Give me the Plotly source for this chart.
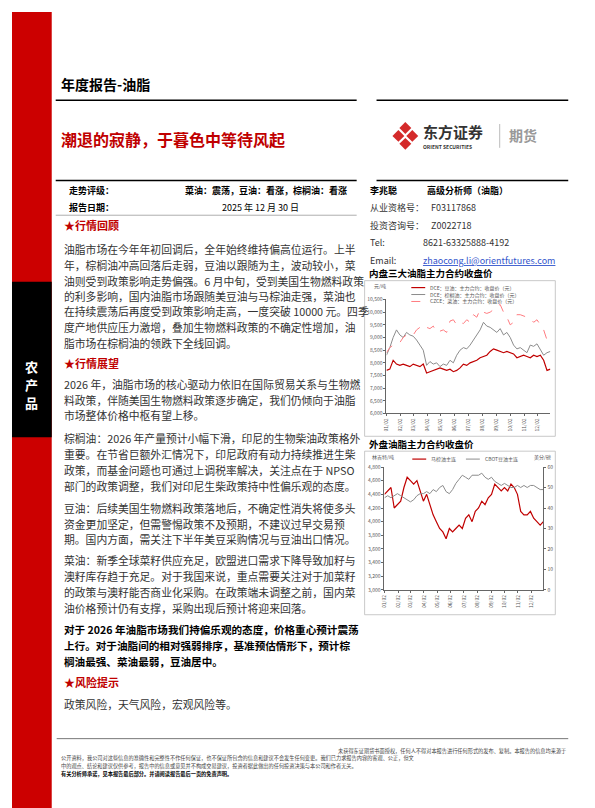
import pandas as pd
import plotly.graph_objects as go

W, H = 595, 808

# ---- données graphique 1 : contrats principaux domestiques (元/吨)
doudou = [7700, 7750, 8100, 7950, 7900, 7950, 7900, 7850, 7950, 7900, 7850, 7950,
          7600, 7650, 7700, 7750, 7800, 7750, 7700, 7750, 7650, 7700, 7800, 7950,
          7900, 8000, 8050, 8100, 8200, 8250, 8300, 8450, 8550, 8500, 8450, 8400,
          8450, 8400, 8350, 8200, 8250, 8300, 8250, 8200, 8300, 8250, 8300, 8100,
          7700, 7750]
zonglv = [8300, 8600, 9000, 9300, 9100, 9000, 9200, 9100, 9050, 8900, 8700, 8500,
          7900, 8050, 7950, 8000, 7850, 7950, 7900, 8100, 8000, 8300, 8500, 8600,
          8550, 8700, 8900, 9100, 9300, 9600, 9450, 9400, 9300, 9200, 9350, 9100,
          9200, 9000, 8700, 8550, 8600, 8500, 8400, 8700, 8650, 8750, 8500, 8300,
          8400, 8450]
caiyou = [8400, 8600, 8700, 8750, 8800, 9000, 9100, 9050, 9100, 9300, 9400, 9300,
          9400, 9350, 9450, 9200, 9250, 9300, 9200, 9650, 9700, 9500, 9600, 9550,
          9700, 9600, 9900, 9800, 10100, 10000, 9950, 10000, 10100, 10250, 10300, 10000,
          9800, 9500, 9600, 9900, 9900, 9850, 9800, 9750, 9600, 9700, 9500, 9300,
          8900, 8700]
noms1 = ["DCE：豆油：主力合约：收盘价（元）", "DCE：棕榈油：主力合约：收盘价（元）",
         "CZCE：菜油：主力合约：收盘价（元）"]

# ---- données graphique 2 : contrats étrangers
bmd = [4400, 4450, 4500, 4200, 4250, 4300, 4500, 4650, 4600, 4550, 4600, 4450,
       4300, 4400, 4250, 4100, 4000, 3900, 3850, 3750, 3900, 3850, 3900, 3950,
       3900, 4050, 4100, 4000, 4150, 4200, 4300, 4250, 4350, 4400, 4550, 4500,
       4450, 4500, 4450, 4550, 4500, 4400, 4150, 4100, 4100, 4150, 4050, 4000,
       3950, 4000]
cbot = [45, 46, 45, 46, 47, 46, 45, 44, 43, 44, 46, 47, 47, 48, 47, 49, 48, 50,
        51, 48, 47, 49, 52, 54, 56, 55, 54, 56, 56, 56, 57, 55, 54, 55, 53, 52,
        51, 52, 51, 50, 50, 51, 50, 51, 50, 51, 51, 50, 49, 49]
noms2 = ["马棕油主连", "CBOT豆油主连"]

dates = pd.date_range("2025-01-02", "2025-12-30", periods=len(doudou))

ROUGE = "#C00000"
GRIS = "#8C8C8C"
ROSE = "#FF7C80"
FONT = "Noto Sans CJK SC"


def px(x):
    return x / W


def py(y):
    return 1 - y / H


fig = go.Figure()
fig.add_trace(go.Scatter(x=dates, y=doudou, name=noms1[0], mode="lines",
                         line=dict(color=ROUGE, width=1.2)))
fig.add_trace(go.Scatter(x=dates, y=zonglv, name=noms1[1], mode="lines",
                         line=dict(color=GRIS, width=1)))
fig.add_trace(go.Scatter(x=dates, y=caiyou, name=noms1[2], mode="lines",
                         line=dict(color=ROSE, width=1, dash="dash")))
fig.add_trace(go.Scatter(x=dates, y=bmd, name=noms2[0], mode="lines", xaxis="x2", yaxis="y2",
                         line=dict(color=ROUGE, width=1.2)))
fig.add_trace(go.Scatter(x=dates, y=cbot, name=noms2[1], mode="lines", xaxis="x2", yaxis="y3",
                         line=dict(color=GRIS, width=1)))

tick = dict(size=5, color="#555")
axe = dict(showgrid=False, zeroline=False, showline=True, linecolor="#666", linewidth=1,
           ticks="outside", ticklen=2, tickcolor="#666", tickfont=tick)

fig.update_layout(
    width=W, height=H, margin=dict(l=0, r=0, t=0, b=0), showlegend=False,
    paper_bgcolor="white", plot_bgcolor="white", font=dict(family=FONT),
    xaxis=dict(axe, domain=[px(377), px(542)], anchor="y", tickformat="%m/%d",
               tickangle=-90, dtick="M1", tick0="2025-01-02"),
    yaxis=dict(axe, domain=[py(405), py(290)], anchor="x", range=[6000, 10500],
               dtick=500, tickformat=","),
    xaxis2=dict(axe, domain=[px(375), px(535)], anchor="y2", tickformat="%m/%d",
                tickangle=-90, dtick="M1", tick0="2025-01-02"),
    yaxis2=dict(axe, domain=[py(583), py(459)], anchor="x2", range=[3000, 4800],
                dtick=200, tickformat=","),
    yaxis3=dict(axe, overlaying="y2", side="right", anchor="x2", range=[0, 60], dtick=10),
)

P = dict(xref="paper", yref="paper")
shapes = [
    dict(P, type="rect", x0=0, x1=px(40), y0=0, y1=1, fillcolor="#CC0000", line_width=0),
    dict(P, type="rect", x0=0, x1=px(40), y0=py(429), y1=py(272), fillcolor="black", line_width=0),
    dict(P, type="line", x0=px(44), x1=px(347), y0=py(89), y1=py(89), line=dict(color="black", width=1.5)),
    dict(P, type="line", x0=px(367), x1=px(560), y0=py(89), y1=py(89), line=dict(color="black", width=1.5)),
    dict(P, type="line", x0=px(44), x1=px(347), y0=py(170), y1=py(170), line=dict(color="black", width=1.5)),
    dict(P, type="line", x0=px(367), x1=px(560), y0=py(170), y1=py(170), line=dict(color="black", width=1.5)),
    dict(P, type="line", x0=px(44), x1=px(347), y0=py(205), y1=py(205), line=dict(color="#999", width=0.8)),
    dict(P, type="rect", x0=px(355), x1=px(547), y0=py(428), y1=py(271), line=dict(color="#BBB", width=0.8)),
    dict(P, type="rect", x0=px(355), x1=px(547), y0=py(608), y1=py(443), line=dict(color="#BBB", width=0.8)),
    dict(P, type="line", x0=px(45), x1=px(560), y0=py(733), y1=py(733), line=dict(color="#777", width=1)),
    dict(P, type="line", x0=px(491), x1=px(491), y0=py(137), y1=py(113), line=dict(color="#AAA", width=0.8)),
]
# logo : quatre losanges rouges
for cx, cy in [(396, 117), (389, 125), (403, 125), (396, 133)]:
    shapes.append(dict(P, type="path", fillcolor="#D42A2A", line_width=0,
                       path=f"M {px(cx)} {py(cy-6)} L {px(cx+6)} {py(cy)} L {px(cx)} {py(cy+6)} L {px(cx-6)} {py(cy)} Z"))

ann = []


def txt(x, y, s, size=11, color="#333", bold=False, anchor="left", **kw):
    if bold:
        s = "<b>" + s + "</b>"
    ann.append(dict(x=px(x), y=py(y), xref="paper", yref="paper", text=s, showarrow=False,
                    xanchor=anchor, yanchor="middle", font=dict(size=size, color=color), **kw))


# légendes dessinées à la main (plus compactes)
def legende(x, y, nom, couleur, dash="solid", w=1.2):
    shapes.append(dict(P, type="line", x0=px(x), x1=px(x + 14), y0=py(y), y1=py(y),
                       line=dict(color=couleur, width=w, dash=dash)))
    txt(x + 17, y, nom, 5, "#555")


legende(402, 278, noms1[0], ROUGE)
legende(402, 285, noms1[1], GRIS, w=1)
legende(402, 292, noms1[2], ROSE, "dash", 1)
legende(403, 451, noms2[0], ROUGE)
legende(457, 451, noms2[1], GRIS, w=1)

txt(47, 73, "年度报告-油脂", 14, "black", True)
txt(47, 128, "潮退的寂静，于暮色中等待风起", 16, ROUGE, True)
txt(412, 121, "东方证券", 15, "#333", True)
txt(412, 136, "ORIENT SECURITIES", 5, "#333", True)
txt(498, 124, "期货", 14, "#999", True)
for y, s in [(358, "农"), (376, "产"), (394, "品")]:
    txt(20, y, s, 13, "white", True, "center")

txt(55, 180, "走势评级：", 9, "black", True)
txt(256, 180, "菜油：震荡，豆油：看涨，棕榈油：看涨", 9, "black", True, "center")
txt(55, 197, "报告日期：", 9, "black", True)
txt(250, 197, "2025 年 12 月 30 日", 9, "black", False, "center")

txt(358, 180, "李兆聪", 9, "black", True)
txt(416, 180, "高级分析师（油脂）", 9, "black", True)
txt(358, 197, "从业资格号：", 9)
txt(420, 197, "F03117868", 9)
txt(358, 215, "投资咨询号：", 9)
txt(420, 215, "Z0022718", 9)
txt(358, 233, "Tel:", 9)
txt(412, 233, "8621-63325888-4192", 9)
txt(358, 251, "Email:", 9)
txt(412, 251, "<u>zhaocong.li@orientfutures.com</u>", 9, "#3355CC")

txt(50, 215, "★行情回顾", 11, ROUGE, True)
para = [
    (239, "油脂市场在今年年初回调后，全年始终维持偏高位运行。上半"),
    (255, "年，棕榈油冲高回落后走弱，豆油以跟随为主，波动较小，菜"),
    (271, "油则受到政策影响走势偏强。6 月中旬，受到美国生物燃料政策"),
    (286, "的利多影响，国内油脂市场跟随美豆油与马棕油走强，菜油也"),
    (302, "在持续震荡后再度受到政策影响走高，一度突破 10000 元。四季"),
    (318, "度产地供应压力激增，叠加生物燃料政策的不确定性增加，油"),
    (334, "脂市场在棕榈油的领跌下全线回调。"),
    (375, "2026 年，油脂市场的核心驱动力依旧在国际贸易关系与生物燃"),
    (391, "料政策，伴随美国生物燃料政策逐步确定，我们仍倾向于油脂"),
    (407, "市场整体价格中枢有望上移。"),
    (430, "棕榈油：2026 年产量预计小幅下滑，印尼的生物柴油政策格外"),
    (446, "重要。在节省巨额外汇情况下，印尼政府有动力持续推进生柴"),
    (462, "政策，而基金问题也可通过上调税率解决，关注点在于 NPSO"),
    (478, "部门的政策调整，我们对印尼生柴政策持中性偏乐观的态度。"),
    (500, "豆油：后续美国生物燃料政策落地后，不确定性消失将使多头"),
    (516, "资金更加坚定，但需警惕政策不及预期，不建议过早交易预"),
    (532, "期。国内方面，需关注下半年美豆采购情况与豆油出口情况。"),
    (553, "菜油：新季全球菜籽供应充足，欧盟进口需求下降导致加籽与"),
    (569, "澳籽库存趋于充足。对于我国来说，重点需要关注对于加菜籽"),
    (585, "的政策与澳籽能否商业化采购。在政策端未调整之前，国内菜"),
    (601, "油价格预计仍有支撑，采购出现后预计将迎来回落。"),
]
for y, s in para:
    txt(50, y, s, 10.8)
txt(50, 354, "★行情展望", 11, ROUGE, True)
for y, s in [(623, "对于 2026 年油脂市场我们持偏乐观的态度，价格重心预计震荡"),
             (639, "上行。对于油脂间的相对强弱排序，基准预估情形下，预计棕"),
             (655, "榈油最强、菜油最弱，豆油居中。")]:
    txt(50, y, s, 10.6, "black", True)
txt(50, 676, "★风险提示", 11, ROUGE, True)
txt(50, 698, "政策风险，天气风险，宏观风险等。", 10.8)

txt(560, 745, "未获得东证期货书面授权，任何人不得对本报告进行任何形式的发布、复制。本报告的信息均来源于", 5.2, "#444", anchor="right")
txt(47, 753, "公开资料，我公司对这些信息的准确性和完整性不作任何保证，也不保证所包含的信息和建议不会发生任何变更。我们已力求报告内容的客观、公正，但文", 5.2, "#444")
txt(47, 761, "中的观点、结论和建议仅供参考，报告中的信息或意见并不构成交易建议，投资者据此做出的任何投资决策与本公司和作者无关。", 5.2, "#444")
txt(47, 769, "有关分析师承诺，见本报告最后部分。并请阅读报告最后一页的免责声明。", 5.2, "black", True)

txt(357, 263, "内盘三大油脂主力合约收盘价", 9.5, "black", True)
txt(357, 436, "外盘油脂主力合约收盘价", 9.5, "black", True)
txt(362, 276, "元/吨", 5, "#555")
txt(360, 449, "林吉特/吨", 5, "#555")
txt(545, 449, "美分/磅", 5, "#555", anchor="right")

fig.update_layout(annotations=ann, shapes=shapes)
fig.write_html("out.html")
